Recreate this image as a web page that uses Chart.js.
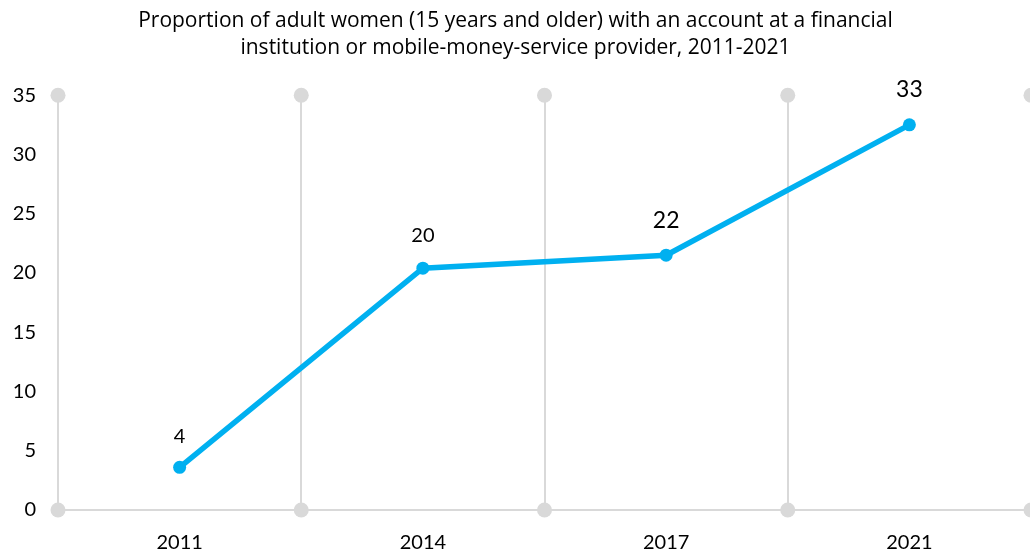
<!DOCTYPE html>
<html>
<head>
<meta charset="utf-8">
<script src="https://cdn.jsdelivr.net/npm/chart.js@4"></script>
<style>
html, body { margin: 0; padding: 0; background: #fff; overflow: hidden; }
#wrap { position: relative; width: 1056px; height: 556px; }
</style>
</head>
<body>
<div id="wrap"><canvas id="c"></canvas></div>
<script>
const titleLines = ["Proportion of adult women (15 years and older) with an account at a financial", "institution or mobile-money-service provider, 2011-2021"];
const categories = ["2011", "2014", "2017", "2021"];
const values = [3.6, 20.4, 21.5, 32.5];
const dataLabels = ["4", "20", "22", "33"];
const yTicks = [0, 5, 10, 15, 20, 25, 30, 35];

const FONT = "Lato, 'Open Sans', sans-serif";
const TITLE_FONT = "'Open Sans', Lato, sans-serif";
const GRAY = "#d9d9d9";
const BLUE = "#00b0f0";

const endCircles = {
  id: "endCircles",
  beforeDatasetsDraw(chart) {
    const ctx = chart.ctx, a = chart.chartArea;
    const n = categories.length;
    ctx.save();
    ctx.fillStyle = GRAY;
    for (let i = 0; i <= n; i++) {
      const x = a.left + i * (a.right - a.left) / n;
      [a.top, a.bottom].forEach(y => {
        ctx.beginPath();
        ctx.arc(x, y, 7.5, 0, Math.PI * 2);
        ctx.fill();
      });
    }
    ctx.restore();
  }
};

const pointLabels = {
  id: "pointLabels",
  afterDatasetsDraw(chart, args, opts) {
    const ctx = chart.ctx;
    const meta = chart.getDatasetMeta(0);
    ctx.save();
    ctx.fillStyle = "#000";
    ctx.textAlign = "center";
    ctx.textBaseline = "middle";
    meta.data.forEach((pt, i) => {
      const size = opts.sizes[i];
      ctx.font = size + "px " + FONT;
      ctx.fillText(dataLabels[i], pt.x, pt.y - opts.offsets[i]);
    });
    ctx.restore();
  }
};

new Chart(document.getElementById("c"), {
  type: "line",
  data: {
    labels: categories,
    datasets: [{
      data: values,
      borderColor: BLUE,
      backgroundColor: BLUE,
      borderWidth: 5.5,
      pointRadius: 6.5,
      pointHoverRadius: 6.5,
      pointBackgroundColor: BLUE,
      pointBorderWidth: 0,
      tension: 0,
      clip: false
    }]
  },
  options: {
    responsive: true,
    maintainAspectRatio: false,
    animation: false,
    layout: { padding: { left: 0, right: 25, top: 0, bottom: 0 } },
    plugins: {
      legend: { display: false },
      tooltip: { enabled: false },
      title: {
        display: true,
        text: titleLines,
        color: "#000",
        font: { family: TITLE_FONT, size: 21, weight: "normal", lineHeight: 1.29 },
        padding: { top: 7, bottom: 34 }
      },
      pointLabels: { sizes: [20, 20, 23, 23], offsets: [31, 33, 35, 35] }
    },
    scales: {
      x: {
        offset: true,
        grid: { offset: true, color: GRAY, lineWidth: 2, drawTicks: false },
        border: { display: true, color: GRAY, width: 2 },
        ticks: { color: "#000", font: { family: FONT, size: 20 }, padding: 21 },
        afterFit(s) { s.height = 46; }
      },
      y: {
        min: 0,
        max: 35,
        afterBuildTicks(s) { s.ticks = yTicks.map(v => ({ value: v })); },
        grid: { display: false, drawTicks: false },
        border: { display: false },
        ticks: { color: "#000", font: { family: FONT, size: 20 }, padding: 22 },
        afterFit(s) { s.width = 58; }
      }
    }
  },
  plugins: [endCircles, pointLabels]
});
</script>
</body>
</html>
